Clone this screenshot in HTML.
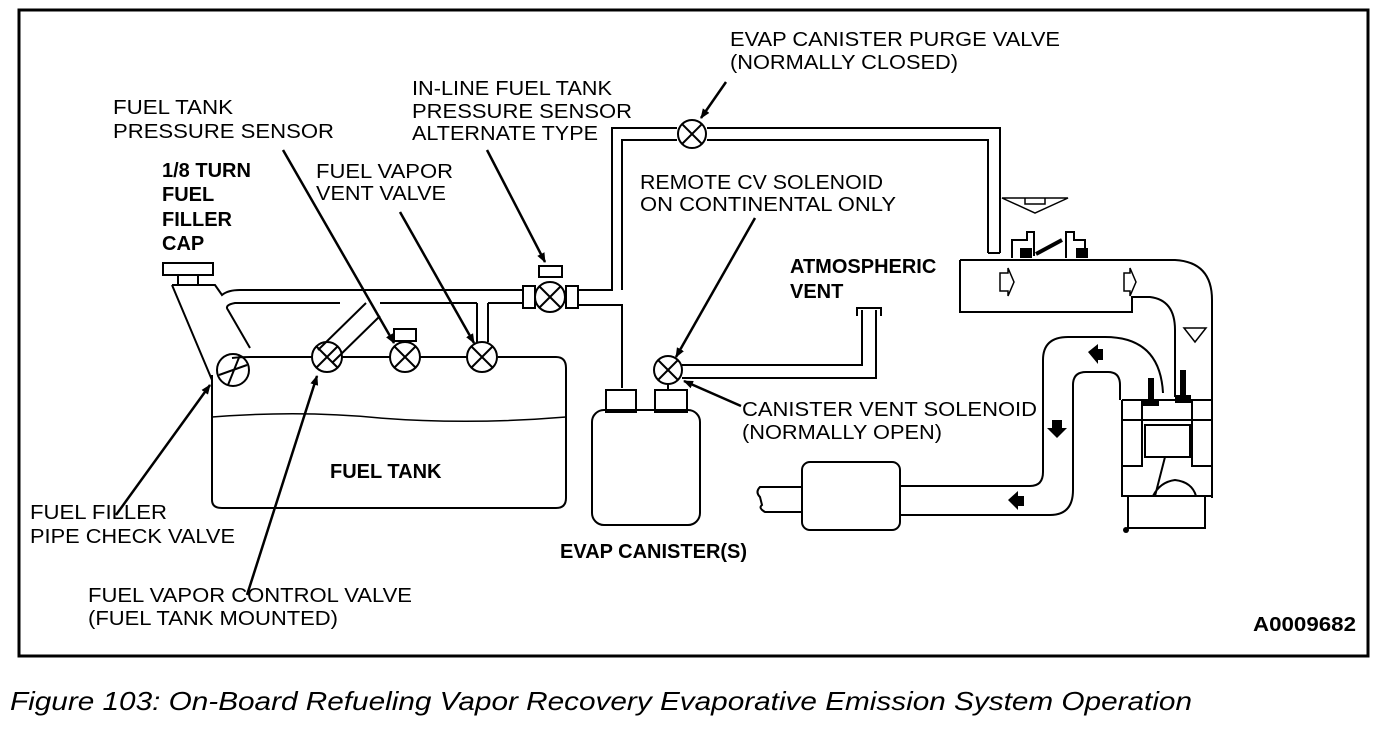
<!DOCTYPE html>
<html><head><meta charset="utf-8"><style>
html,body{margin:0;padding:0;background:#fff;}
svg{display:block}
text{font-family:"Liberation Sans",sans-serif;font-size:20px;fill:#000}
.b{font-weight:bold}
</style></head><body>
<svg width="1392" height="752" viewBox="0 0 1392 752" xmlns="http://www.w3.org/2000/svg">
<defs><marker id="ar" markerWidth="10" markerHeight="10" refX="9" refY="5" orient="auto" markerUnits="userSpaceOnUse"><path d="M0,1 L10,5 L0,9 Z" fill="#000"/></marker></defs>
<rect x="19" y="10" width="1349" height="646" fill="none" stroke="#000" stroke-width="3"/>
<g fill="none" stroke="#000" stroke-width="2">
<rect x="163" y="263" width="50" height="12"/><rect x="178" y="275" width="20" height="10"/>
<path d="M172,285 L212,380 M172,285 L215,285 L222,295 Q228,290 240,290 L523,290"/>
<path d="M250,348 L228,310 Q224,305 235,303 L340,303 M380,303 L477,303 M488,303 L523,303"/>
<path d="M318,350 L366,303 M333,362 L380,316"/>
<path d="M477,303 L477,342 M488,303 L488,342"/>
<path d="M212,375 L212,500 Q212,508 222,508 L556,508 Q566,508 566,498 L566,368 Q566,357 556,357 L498,357 M467,357 L420,357 M390,357 L342,357 M312,357 L250,357 Q240,357 232,358"/>
<path d="M212,417 Q300,410 380,418 Q470,425 566,417" stroke-width="1.5"/>
<circle cx="233" cy="370" r="16"/><path d="M219,375 L247,365 M228,385 L240,355"/>
<circle cx="327" cy="357" r="15"/><path d="M316,346 L338,368 M338,346 L316,368"/>
<circle cx="405" cy="357" r="15"/><path d="M394,346 L416,368 M416,346 L394,368"/><rect x="394" y="329" width="22" height="12"/>
<circle cx="482" cy="357" r="15"/><path d="M471,346 L493,368 M493,346 L471,368"/>
<rect x="523" y="286" width="12" height="22"/><rect x="566" y="286" width="12" height="22"/>
<circle cx="550" cy="297" r="15"/><path d="M539,286 L561,308 M561,286 L539,308"/><rect x="539" y="266" width="23" height="11"/>
<path d="M578,290 L612,290 L612,128 L677,128 M707,128 L1000,128 L1000,253 M578,305 L622,305 L622,388 M622,290 L622,140 L677,140 M707,140 L988,140 L988,253 M988,253 L1000,253"/>
<circle cx="692" cy="134" r="14"/><path d="M682,124 L702,144 M702,124 L682,144"/>
<rect x="592" y="410" width="108" height="115" rx="12"/>
<rect x="606" y="390" width="30" height="22"/><rect x="655" y="390" width="32" height="22"/>
<path d="M668,384 L668,390"/>
<circle cx="668" cy="370" r="14"/><path d="M658,360 L678,380 M678,360 L658,380"/>
<path d="M682,365 L862,365 L862,310 M682,378 L876,378 L876,310 M857,316 L857,308 L881,308 L881,316"/>
<path d="M960,260 L960,312 L1132,312 L1132,297 L1150,297 Q1175,300 1175,330 L1175,397 M960,260 L1175,260 Q1212,262 1212,300 L1212,498"/>
<path d="M1012,258 L1012,240 L1027,240 L1027,232 L1034,232 L1034,256 M1066,258 L1066,232 L1074,232 L1074,240 L1085,240 L1085,258"/>
<path d="M1036,254 L1062,240" stroke-width="4"/>
<path d="M1000,273 L1008,273 L1008,268 L1014,282 L1008,296 L1008,291 L1000,291 Z M1124,273 L1130,273 L1130,268 L1136,282 L1130,296 L1130,291 L1124,291 Z" stroke-width="1.5"/>
<path d="M1002,198 L1068,198 L1035,213 Z M1025,198 L1025,204 L1045,204 L1045,198" stroke-width="1.5"/>
<path d="M1184,328 L1206,328 L1195,342 Z" stroke-width="1.5"/>
<path d="M1122,400 L1212,400 M1122,400 L1122,496 L1212,496 M1122,420 L1212,420 M1142,400 L1142,466 L1122,466 M1192,400 L1192,466 L1212,466 M1145,425 L1190,425 L1190,457 L1145,457 Z M1128,496 L1128,528 L1205,528 L1205,496 M1153,496 Q1160,482 1175,480 Q1192,482 1196,496 M1165,457 L1155,496"/>
<path d="M900,486 L1030,486 Q1043,486 1043,472 L1043,360 Q1043,337 1068,337 L1105,337 Q1160,337 1163,393"/>
<path d="M900,515 L1050,515 Q1073,515 1073,490 L1073,385 Q1073,372 1086,372 L1108,372 Q1120,372 1120,385 L1120,400"/>
<rect x="802" y="462" width="98" height="68" rx="8"/>
<path d="M802,487 L760,487 Q755,492 760,497 L762,505 Q758,508 765,512 L802,512"/>
</g>
<g fill="#000">
<path d="M1088,352 L1098,344 L1098,349 L1103,349 L1103,360 L1098,360 L1098,364 Z"/>
<path d="M1052,420 L1062,420 L1062,428 L1067,428 L1057,438 L1047,428 L1052,428 Z"/>
<path d="M1008,500 L1018,491 L1018,496 L1024,496 L1024,506 L1018,506 L1018,510 Z"/>
<rect x="1148" y="378" width="6" height="25"/><rect x="1143" y="400" width="16" height="6"/>
<rect x="1180" y="370" width="6" height="30"/><rect x="1175" y="395" width="16" height="8"/>
<rect x="1020" y="248" width="12" height="10"/><rect x="1076" y="248" width="12" height="10"/>
<circle cx="1126" cy="530" r="3"/>
</g>
<g stroke="#000" stroke-width="2.5" marker-end="url(#ar)">
<line x1="726" y1="82" x2="701" y2="118"/>
<line x1="487" y1="150" x2="545" y2="262"/>
<line x1="283" y1="150" x2="394" y2="343"/>
<line x1="400" y1="212" x2="474" y2="343"/>
<line x1="755" y1="218" x2="676" y2="357"/>
<line x1="741" y1="406" x2="684" y2="381"/>
<line x1="116" y1="515" x2="210" y2="385"/>
<line x1="247" y1="595" x2="317" y2="376"/>
</g>
<text x="730" y="46" textLength="330" lengthAdjust="spacingAndGlyphs">EVAP CANISTER PURGE VALVE</text>
<text x="730" y="69" textLength="228" lengthAdjust="spacingAndGlyphs">(NORMALLY CLOSED)</text>
<text x="412" y="95" textLength="200" lengthAdjust="spacingAndGlyphs">IN-LINE FUEL TANK</text>
<text x="412" y="118" textLength="220" lengthAdjust="spacingAndGlyphs">PRESSURE SENSOR</text>
<text x="412" y="140" textLength="186" lengthAdjust="spacingAndGlyphs">ALTERNATE TYPE</text>
<text x="113" y="114" textLength="120" lengthAdjust="spacingAndGlyphs">FUEL TANK</text>
<text x="113" y="138" textLength="221" lengthAdjust="spacingAndGlyphs">PRESSURE SENSOR</text>
<text x="316" y="178" textLength="137" lengthAdjust="spacingAndGlyphs">FUEL VAPOR</text>
<text x="316" y="200" textLength="130" lengthAdjust="spacingAndGlyphs">VENT VALVE</text>
<text class="b" x="162" y="177">1/8 TURN</text>
<text class="b" x="162" y="201">FUEL</text>
<text class="b" x="162" y="226">FILLER</text>
<text class="b" x="162" y="250">CAP</text>
<text x="640" y="189" textLength="243" lengthAdjust="spacingAndGlyphs">REMOTE CV SOLENOID</text>
<text x="640" y="211" textLength="256" lengthAdjust="spacingAndGlyphs">ON CONTINENTAL ONLY</text>
<text class="b" x="790" y="273">ATMOSPHERIC</text>
<text class="b" x="790" y="298">VENT</text>
<text x="742" y="416" textLength="295" lengthAdjust="spacingAndGlyphs">CANISTER VENT SOLENOID</text>
<text x="742" y="439" textLength="200" lengthAdjust="spacingAndGlyphs">(NORMALLY OPEN)</text>
<text class="b" x="330" y="478">FUEL TANK</text>
<text x="30" y="519" textLength="137" lengthAdjust="spacingAndGlyphs">FUEL FILLER</text>
<text x="30" y="543" textLength="205" lengthAdjust="spacingAndGlyphs">PIPE CHECK VALVE</text>
<text class="b" x="560" y="558">EVAP CANISTER(S)</text>
<text x="88" y="602" textLength="324" lengthAdjust="spacingAndGlyphs">FUEL VAPOR CONTROL VALVE</text>
<text x="88" y="625" textLength="250" lengthAdjust="spacingAndGlyphs">(FUEL TANK MOUNTED)</text>
<text class="b" x="1253" y="631" textLength="103" lengthAdjust="spacingAndGlyphs">A0009682</text>
<text x="10" y="710" textLength="1182" lengthAdjust="spacingAndGlyphs" style="font-size:26px;font-style:italic">Figure 103: On-Board Refueling Vapor Recovery Evaporative Emission System Operation</text>
</svg>
</body></html>
